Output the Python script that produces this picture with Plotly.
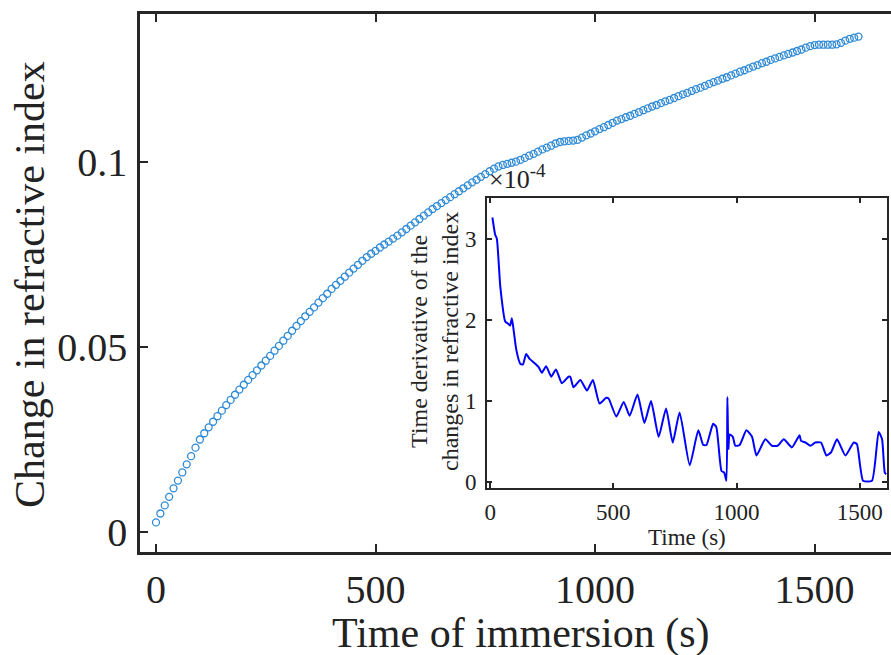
import plotly.graph_objects as go

# ---------------- data ----------------
# main series: time of immersion (s) and change in refractive index
time_main = list(range(0, 1610, 10))
delta_n = [
    0.0026, 0.0050, 0.0072, 0.0095, 0.0118, 0.0139, 0.0161, 0.0183, 0.0205, 0.0228,
    0.0250, 0.0267, 0.0283, 0.0298, 0.0313, 0.0328, 0.0343, 0.0357, 0.0371, 0.0385,
    0.0398, 0.0411, 0.0424, 0.0437, 0.0450, 0.0463, 0.0476, 0.0490, 0.0503, 0.0517,
    0.0530, 0.0544, 0.0557, 0.0570, 0.0583, 0.0595, 0.0607, 0.0620, 0.0632, 0.0644,
    0.0657, 0.0668, 0.0679, 0.0690, 0.0701, 0.0712, 0.0722, 0.0733, 0.0743, 0.0752,
    0.0760, 0.0769, 0.0777, 0.0785, 0.0793, 0.0801, 0.0810, 0.0819, 0.0828, 0.0837,
    0.0846, 0.0855, 0.0864, 0.0873, 0.0881, 0.0889, 0.0897, 0.0905, 0.0913, 0.0921,
    0.0929, 0.0937, 0.0945, 0.0952, 0.0960, 0.0967, 0.0975, 0.0982, 0.0988, 0.0992,
    0.0995, 0.0998, 0.1001, 0.1006, 0.1011, 0.1017, 0.1022, 0.1028, 0.1034, 0.1039,
    0.1044, 0.1050, 0.1054, 0.1056, 0.1057, 0.1058, 0.1060, 0.1066, 0.1072, 0.1077,
    0.1083, 0.1089, 0.1094, 0.1100, 0.1106, 0.1112, 0.1116, 0.1121, 0.1125, 0.1130,
    0.1135, 0.1140, 0.1145, 0.1150, 0.1154, 0.1159, 0.1164, 0.1168, 0.1173, 0.1178,
    0.1183, 0.1187, 0.1192, 0.1197, 0.1201, 0.1206, 0.1211, 0.1216, 0.1220, 0.1225,
    0.1229, 0.1234, 0.1239, 0.1244, 0.1248, 0.1253, 0.1258, 0.1262, 0.1267, 0.1271,
    0.1276, 0.1280, 0.1284, 0.1288, 0.1292, 0.1296, 0.1300, 0.1304, 0.1309, 0.1313,
    0.1316, 0.1317, 0.1317, 0.1317, 0.1317, 0.1318, 0.1322, 0.1328, 0.1333, 0.1336,
    0.1339,
]

# inset series: time (s) and time derivative (units of 1e-4 per s)
time_inset = [
    9, 20, 27, 41, 61, 74, 81, 88, 97, 106, 122, 133, 146, 160, 183, 196, 210, 227,
    248, 267, 291, 318, 325, 338, 366, 393, 417, 444, 471, 481, 512, 542, 566, 598,
    626, 653, 684, 714, 741, 769, 810, 845, 865, 878, 905, 918, 939, 950, 959, 963,
    967, 972, 985, 995, 1013, 1040, 1063, 1081, 1117, 1144, 1167, 1192, 1225, 1256,
    1262, 1280, 1300, 1320, 1343, 1365, 1384, 1408, 1442, 1476, 1489, 1514, 1550,
    1577, 1591, 1602, 1608,
]
deriv_e4 = [
    3.26, 3.05, 3.00, 2.41, 1.98, 1.95, 1.93, 2.02, 1.83, 1.63, 1.46, 1.45, 1.58, 1.52,
    1.46, 1.42, 1.35, 1.43, 1.30, 1.39, 1.22, 1.30, 1.30, 1.17, 1.26, 1.13, 1.26, 0.97,
    1.04, 1.03, 0.81, 0.99, 0.82, 1.08, 0.73, 1.00, 0.56, 0.91, 0.49, 0.86, 0.21, 0.64,
    0.46, 0.46, 0.72, 0.68, 0.14, 0.12, 0.02, 1.05, 0.41, 0.59, 0.56, 0.45, 0.46, 0.64,
    0.56, 0.33, 0.53, 0.45, 0.45, 0.53, 0.43, 0.58, 0.51, 0.49, 0.45, 0.49, 0.49, 0.33,
    0.37, 0.53, 0.33, 0.49, 0.47, 0.02, 0.02, 0.62, 0.53, 0.12, 0.10,
]

main_yticks = [0, 0.05, 0.1]
main_yticklabels = ["0", "0.05", "0.1"]
main_xticks = [0, 500, 1000, 1500]
inset_xticks = [0, 500, 1000, 1500]
inset_yticks = [0, 1, 2, 3]

# ---------------- layout geometry (pixels) ----------------
W, H = 891, 655
L, R, T, B = 140, 891, 14, 552   # main axes box


def px_x(p):
    return (p - L) / (R - L)


def px_y(p):
    return (B - p) / (B - T)


FONT = "Liberation Serif, Times New Roman, serif"
AX = "#262626"

fig = go.Figure()
fig.add_trace(go.Scatter(
    x=time_main, y=delta_n, mode="markers",
    marker=dict(symbol="circle-open", size=7, color="#2f8ad6", line=dict(width=1.3, color="#2f8ad6")),
    xaxis="x", yaxis="y", showlegend=False, hoverinfo="skip",
))
fig.add_trace(go.Scatter(
    x=time_inset, y=deriv_e4, mode="lines",
    line=dict(color="#0000ff", width=2, shape="spline", smoothing=0.5),
    xaxis="x2", yaxis="y2", showlegend=False, hoverinfo="skip",
))

inset_x0, inset_x1, inset_y0, inset_y1 = 487, 887, 198, 488

fig.update_layout(
    width=W, height=H,
    margin=dict(l=L, r=W - R, t=T, b=H - B),
    paper_bgcolor="white", plot_bgcolor="white",
    font=dict(family=FONT, color="#222"),
    xaxis=dict(
        domain=[0, 1], range=[-36.4, 1674], anchor="y",
        tickvals=main_xticks, ticks="inside", ticklen=8, tickwidth=2, tickcolor=AX,
        showline=True, linewidth=2.5, linecolor=AX, mirror="ticks",
        showgrid=False, zeroline=False,
        tickfont=dict(size=40, family=FONT, color="#222"), ticklabelstandoff=0,
    ),
    yaxis=dict(
        domain=[0, 1], range=[-0.0054, 0.14], anchor="x",
        tickvals=main_yticks, ticktext=main_yticklabels,
        ticks="inside", ticklen=8, tickwidth=2, tickcolor=AX,
        showline=True, linewidth=2.5, linecolor=AX, mirror=False,
        showgrid=False, zeroline=False,
        tickfont=dict(size=40, family=FONT, color="#222"), ticklabelstandoff=2,
    ),
    xaxis2=dict(
        domain=[px_x(inset_x0), px_x(inset_x1)], range=[-13, 1611], anchor="y2",
        tickvals=inset_xticks, ticks="inside", ticklen=5, tickwidth=1.5, tickcolor=AX,
        showline=True, linewidth=2, linecolor=AX, mirror="ticks",
        showgrid=False, zeroline=False,
        tickfont=dict(size=23, family=FONT, color="#222"), ticklabelstandoff=2,
    ),
    yaxis2=dict(
        domain=[px_y(inset_y1), px_y(inset_y0)], range=[-0.07, 3.5], anchor="x2",
        tickvals=inset_yticks, ticks="inside", ticklen=5, tickwidth=1.5, tickcolor=AX,
        showline=True, linewidth=2, linecolor=AX, mirror="ticks",
        showgrid=False, zeroline=False,
        tickfont=dict(size=23, family=FONT, color="#222"), ticklabelstandoff=4,
    ),
    shapes=[dict(type="rect", xref="paper", yref="paper",
                 x0=px_x(inset_x0), x1=px_x(inset_x1), y0=px_y(inset_y1), y1=px_y(inset_y0),
                 fillcolor="white", line=dict(width=0), layer="below")],
    annotations=[
        dict(text="Time of immersion (s)", xref="paper", yref="paper",
             x=px_x(521), y=px_y(633), xanchor="center", yanchor="middle",
             showarrow=False, font=dict(size=42, family=FONT, color="#222")),
        dict(text="Change in refractive index", xref="paper", yref="paper",
             x=px_x(30), y=px_y(285), xanchor="center", yanchor="middle", textangle=-90,
             showarrow=False, font=dict(size=42, family=FONT, color="#222")),
        dict(text="Time (s)", xref="paper", yref="paper",
             x=px_x(687), y=px_y(537), xanchor="center", yanchor="middle",
             showarrow=False, font=dict(size=23, family=FONT, color="#222")),
        dict(text="Time derivative of the<br>changes in refractive index", xref="paper", yref="paper",
             x=px_x(434), y=px_y(342), xanchor="center", yanchor="middle", textangle=-90,
             showarrow=False, font=dict(size=24, family=FONT, color="#222")),
        dict(text="\u00d710<sup><span style='font-size:19px'>-4</span></sup>", xref="paper", yref="paper",
             x=px_x(487), y=px_y(196), xanchor="left", yanchor="bottom",
             showarrow=False, font=dict(size=26, family=FONT, color="#222")),
    ],
)

fig.write_html("out.html")
